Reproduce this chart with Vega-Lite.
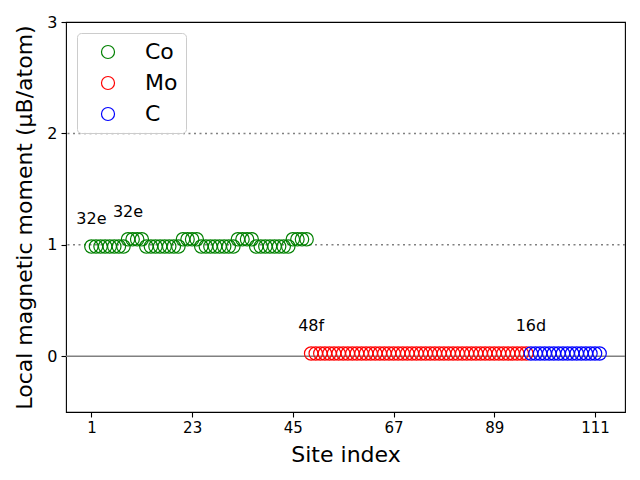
{
  "$schema": "https://vega.github.io/schema/vega-lite/v6.json",
  "width": 559,
  "height": 390,
  "autosize": {"type": "none"},
  "padding": {"left": 66, "top": 22, "right": 15, "bottom": 68},
  "config": {
    "font": "DejaVu Sans",
    "view": {"stroke": "black", "strokeWidth": 1.1},
    "axis": {"grid": false, "domain": false, "tickColor": "black", "labelColor": "black", "titleColor": "black", "titleFontWeight": "normal", "tickSize": 5, "tickWidth": 1.1}
  },
  "layer": [
    {
      "data": {"values": [{"level": 1}, {"level": 2}]},
      "mark": {"type": "rule", "color": "gray", "strokeWidth": 1.5, "strokeDash": [2, 3.5]},
      "encoding": {"y": {"field": "level", "type": "quantitative", "scale": {"domain": [-0.5, 3], "nice": false, "zero": false}}}
    },
    {
      "data": {"values": [{"level": 0}]},
      "mark": {"type": "rule", "color": "gray", "strokeWidth": 1.5},
      "encoding": {"y": {"field": "level", "type": "quantitative"}}
    },
    {
      "data": {"values": [
        {"site": 1, "moment": 0.985, "element": "Co"}, {"site": 2, "moment": 0.985, "element": "Co"}, {"site": 3, "moment": 0.985, "element": "Co"}, {"site": 4, "moment": 0.985, "element": "Co"},
        {"site": 5, "moment": 0.985, "element": "Co"}, {"site": 6, "moment": 0.985, "element": "Co"}, {"site": 7, "moment": 0.985, "element": "Co"}, {"site": 8, "moment": 0.985, "element": "Co"},
        {"site": 9, "moment": 1.05, "element": "Co"}, {"site": 10, "moment": 1.05, "element": "Co"}, {"site": 11, "moment": 1.05, "element": "Co"}, {"site": 12, "moment": 1.05, "element": "Co"},
        {"site": 13, "moment": 0.985, "element": "Co"}, {"site": 14, "moment": 0.985, "element": "Co"}, {"site": 15, "moment": 0.985, "element": "Co"}, {"site": 16, "moment": 0.985, "element": "Co"},
        {"site": 17, "moment": 0.985, "element": "Co"}, {"site": 18, "moment": 0.985, "element": "Co"}, {"site": 19, "moment": 0.985, "element": "Co"}, {"site": 20, "moment": 0.985, "element": "Co"},
        {"site": 21, "moment": 1.05, "element": "Co"}, {"site": 22, "moment": 1.05, "element": "Co"}, {"site": 23, "moment": 1.05, "element": "Co"}, {"site": 24, "moment": 1.05, "element": "Co"},
        {"site": 25, "moment": 0.985, "element": "Co"}, {"site": 26, "moment": 0.985, "element": "Co"}, {"site": 27, "moment": 0.985, "element": "Co"}, {"site": 28, "moment": 0.985, "element": "Co"},
        {"site": 29, "moment": 0.985, "element": "Co"}, {"site": 30, "moment": 0.985, "element": "Co"}, {"site": 31, "moment": 0.985, "element": "Co"}, {"site": 32, "moment": 0.985, "element": "Co"},
        {"site": 33, "moment": 1.05, "element": "Co"}, {"site": 34, "moment": 1.05, "element": "Co"}, {"site": 35, "moment": 1.05, "element": "Co"}, {"site": 36, "moment": 1.05, "element": "Co"},
        {"site": 37, "moment": 0.985, "element": "Co"}, {"site": 38, "moment": 0.985, "element": "Co"}, {"site": 39, "moment": 0.985, "element": "Co"}, {"site": 40, "moment": 0.985, "element": "Co"},
        {"site": 41, "moment": 0.985, "element": "Co"}, {"site": 42, "moment": 0.985, "element": "Co"}, {"site": 43, "moment": 0.985, "element": "Co"}, {"site": 44, "moment": 0.985, "element": "Co"},
        {"site": 45, "moment": 1.05, "element": "Co"}, {"site": 46, "moment": 1.05, "element": "Co"}, {"site": 47, "moment": 1.05, "element": "Co"}, {"site": 48, "moment": 1.05, "element": "Co"},
        {"site": 49, "moment": 0.025, "element": "Mo"}, {"site": 50, "moment": 0.025, "element": "Mo"}, {"site": 51, "moment": 0.025, "element": "Mo"}, {"site": 52, "moment": 0.025, "element": "Mo"},
        {"site": 53, "moment": 0.025, "element": "Mo"}, {"site": 54, "moment": 0.025, "element": "Mo"}, {"site": 55, "moment": 0.025, "element": "Mo"}, {"site": 56, "moment": 0.025, "element": "Mo"},
        {"site": 57, "moment": 0.025, "element": "Mo"}, {"site": 58, "moment": 0.025, "element": "Mo"}, {"site": 59, "moment": 0.025, "element": "Mo"}, {"site": 60, "moment": 0.025, "element": "Mo"},
        {"site": 61, "moment": 0.025, "element": "Mo"}, {"site": 62, "moment": 0.025, "element": "Mo"}, {"site": 63, "moment": 0.025, "element": "Mo"}, {"site": 64, "moment": 0.025, "element": "Mo"},
        {"site": 65, "moment": 0.025, "element": "Mo"}, {"site": 66, "moment": 0.025, "element": "Mo"}, {"site": 67, "moment": 0.025, "element": "Mo"}, {"site": 68, "moment": 0.025, "element": "Mo"},
        {"site": 69, "moment": 0.025, "element": "Mo"}, {"site": 70, "moment": 0.025, "element": "Mo"}, {"site": 71, "moment": 0.025, "element": "Mo"}, {"site": 72, "moment": 0.025, "element": "Mo"},
        {"site": 73, "moment": 0.025, "element": "Mo"}, {"site": 74, "moment": 0.025, "element": "Mo"}, {"site": 75, "moment": 0.025, "element": "Mo"}, {"site": 76, "moment": 0.025, "element": "Mo"},
        {"site": 77, "moment": 0.025, "element": "Mo"}, {"site": 78, "moment": 0.025, "element": "Mo"}, {"site": 79, "moment": 0.025, "element": "Mo"}, {"site": 80, "moment": 0.025, "element": "Mo"},
        {"site": 81, "moment": 0.025, "element": "Mo"}, {"site": 82, "moment": 0.025, "element": "Mo"}, {"site": 83, "moment": 0.025, "element": "Mo"}, {"site": 84, "moment": 0.025, "element": "Mo"},
        {"site": 85, "moment": 0.025, "element": "Mo"}, {"site": 86, "moment": 0.025, "element": "Mo"}, {"site": 87, "moment": 0.025, "element": "Mo"}, {"site": 88, "moment": 0.025, "element": "Mo"},
        {"site": 89, "moment": 0.025, "element": "Mo"}, {"site": 90, "moment": 0.025, "element": "Mo"}, {"site": 91, "moment": 0.025, "element": "Mo"}, {"site": 92, "moment": 0.025, "element": "Mo"},
        {"site": 93, "moment": 0.025, "element": "Mo"}, {"site": 94, "moment": 0.025, "element": "Mo"}, {"site": 95, "moment": 0.025, "element": "Mo"}, {"site": 96, "moment": 0.025, "element": "Mo"},
        {"site": 97, "moment": 0.025, "element": "C"}, {"site": 98, "moment": 0.025, "element": "C"}, {"site": 99, "moment": 0.025, "element": "C"}, {"site": 100, "moment": 0.025, "element": "C"},
        {"site": 101, "moment": 0.025, "element": "C"}, {"site": 102, "moment": 0.025, "element": "C"}, {"site": 103, "moment": 0.025, "element": "C"}, {"site": 104, "moment": 0.025, "element": "C"},
        {"site": 105, "moment": 0.025, "element": "C"}, {"site": 106, "moment": 0.025, "element": "C"}, {"site": 107, "moment": 0.025, "element": "C"}, {"site": 108, "moment": 0.025, "element": "C"},
        {"site": 109, "moment": 0.025, "element": "C"}, {"site": 110, "moment": 0.025, "element": "C"}, {"site": 111, "moment": 0.025, "element": "C"}, {"site": 112, "moment": 0.025, "element": "C"}
      ]},
      "mark": {"type": "point", "shape": "circle", "filled": false, "size": 180, "strokeWidth": 1.2, "opacity": 1},
      "encoding": {
        "x": {"field": "site", "type": "quantitative", "title": "Site index",
              "scale": {"domain": [-4.55, 117.55], "nice": false, "zero": false},
              "axis": {"values": [1, 23, 45, 67, 89, 111], "format": "d", "labelFontSize": 15, "titleFontSize": 22, "labelPadding": 3, "titleY": 42, "titleBaseline": "middle"}},
        "y": {"field": "moment", "type": "quantitative", "title": "Local magnetic moment (μB/atom)",
              "axis": {"values": [0, 1, 2, 3], "format": "d", "labelFontSize": 16, "titleFontSize": 22, "labelPadding": 4, "titleX": -42, "titleY": 195, "titleAngle": -90, "titleAlign": "center", "titleBaseline": "middle"}},
        "color": {"field": "element", "type": "nominal",
                  "scale": {"domain": ["Co", "Mo", "C"], "range": ["#008000", "#ff0000", "#0000ff"]},
                  "legend": {"title": null, "orient": "none", "legendX": 11, "legendY": 11, "labelFontSize": 22, "labelColor": "black",
                             "symbolSize": 170, "symbolStrokeWidth": 1.2, "symbolType": "circle", "symbolFillColor": "transparent",
                             "padding": 8, "rowPadding": 9, "symbolOffset": 12, "labelOffset": 26,
                             "strokeColor": "#cccccc", "fillColor": "rgba(255,255,255,0.8)", "cornerRadius": 4}}
      }
    },
    {
      "data": {"values": [
        {"site": 1, "pos": 1.19, "label": "32e"},
        {"site": 9, "pos": 1.25, "label": "32e"},
        {"site": 49, "pos": 0.225, "label": "48f"},
        {"site": 97, "pos": 0.225, "label": "16d"}
      ]},
      "mark": {"type": "text", "fontSize": 16, "align": "center", "baseline": "alphabetic", "color": "black"},
      "encoding": {
        "x": {"field": "site", "type": "quantitative"},
        "y": {"field": "pos", "type": "quantitative"},
        "text": {"field": "label"}
      }
    }
  ]
}
